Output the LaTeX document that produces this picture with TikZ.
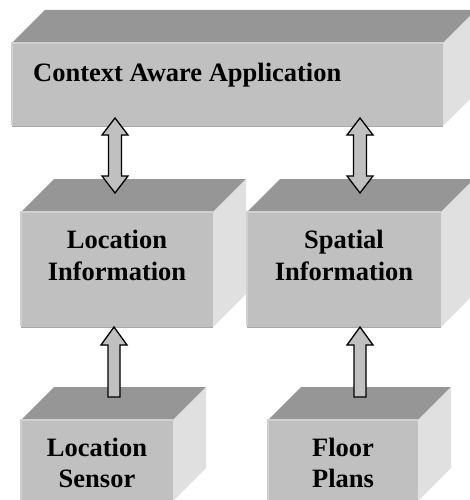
\documentclass[tikz,border=0pt]{standalone}
\usepackage{fontspec}
\setmainfont{Liberation Serif}
\usetikzlibrary{calc}

\definecolor{frontgray}{HTML}{C0C0C0}
\definecolor{topgray}{HTML}{969696}
\definecolor{sidegray}{HTML}{E0E0E0}
\definecolor{edgelight}{HTML}{D0D0D0}
\definecolor{edgedark}{HTML}{A8A8A8}
\definecolor{shadowgray}{HTML}{8A8A8A}

\tikzset{
  front/.style={fill=frontgray, draw=none, inner sep=0pt, outer sep=0pt, anchor=north west},
  boxtext/.style={font=\bfseries\fontsize{26.5}{31.5}\selectfont, inner sep=0pt, anchor=base},
  arrowbody/.style={fill=frontgray, draw=black, line width=1.3pt, line join=miter},
  arrowshadow/.style={fill=shadowgray, draw=none, xshift=4pt, yshift=-4pt},
}

% depth of the cuboids (in picture units)
\def\dep{33}

% top and right faces behind a front-face node, plus bevel edges
\newcommand\cuboid[1]{%
  \fill[topgray] (#1.north west) -- ++(\dep,-\dep) -- ($(#1.north east)+(\dep,-\dep)$) -- (#1.north east) -- cycle;
  \fill[sidegray] (#1.north east) -- ++(\dep,-\dep) -- ($(#1.south east)+(\dep,-\dep)$) -- (#1.south east) -- cycle;
  \draw[edgelight, line width=1.2pt] ([yshift=1pt]#1.south west) -- (#1.north west) -- (#1.north east);
  \draw[edgedark, line width=1pt] (#1.south west) -- (#1.south east);
}

% double-headed block arrow between an upper and a lower tip
\newcommand\dblarrow[2]{%
  \foreach \sty in {arrowshadow,arrowbody}{
  \path[\sty] let \p1=(#1), \p2=(#2) in
    (\x1,\y1) -- (\x1+13pt,\y1-17pt) -- (\x1+6.5pt,\y1-17pt) -- (\x1+6.5pt,\y2+17pt)
    -- (\x1+13pt,\y2+17pt) -- (\x1,\y2) -- (\x1-13pt,\y2+17pt) -- (\x1-6.5pt,\y2+17pt)
    -- (\x1-6.5pt,\y1-17pt) -- (\x1-13pt,\y1-17pt) -- cycle;
  }%
}

% single block arrow pointing up from a flat foot to a tip
\newcommand\blockup[2]{%
  \foreach \sty in {arrowshadow,arrowbody}{
  \path[\sty] let \p1=(#1), \p2=(#2) in
    (\x1,\y1) -- (\x1+13pt,\y1-18pt) -- (\x1+6pt,\y1-18pt) -- (\x1+6pt,\y2)
    -- (\x1-6pt,\y2) -- (\x1-6pt,\y1-18pt) -- (\x1-13pt,\y1-18pt) -- cycle;
  }%
}

\begin{document}
\begin{tikzpicture}[x=1pt,y=-1pt]
\useasboundingbox (0,0) rectangle (470,500);
\clip (0,0) rectangle (470,500);

% front faces
\node[front, minimum width=431pt, minimum height=83pt]  (app)    at (12,43)  {};
\node[front, minimum width=192pt, minimum height=115pt] (locinf) at (21,212) {};
\node[front, minimum width=194pt, minimum height=115pt] (spainf) at (247,212) {};
\node[front, minimum width=152pt, minimum height=81pt]  (locsen) at (21,420) {};
\node[front, minimum width=150pt, minimum height=81pt]  (floor)  at (268,420) {};

\cuboid{app}
\cuboid{locinf}
\cuboid{spainf}
\cuboid{locsen}
\cuboid{floor}

% labels
\node[boxtext, anchor=base west] (tApp) at (33,82) {Context Aware Application};
\node[boxtext] (tLoc1) at (117,248) {Location};
\node[boxtext] (tLoc2) at (117,280) {Information};
\node[boxtext] (tSpa1) at (344,248) {Spatial};
\node[boxtext] (tSpa2) at (344,280) {Information};
\node[boxtext] (tSen1) at (97,456) {Location};
\node[boxtext] (tSen2) at (97,487) {Sensor};
\node[boxtext] (tFlo1) at (343,456) {Floor};
\node[boxtext] (tFlo2) at (343,487) {Plans};

% arrow ends
\coordinate (a1t) at (115,118);
\coordinate (a1b) at (115,193);
\coordinate (a2t) at (360,118);
\coordinate (a2b) at (360,193);
\coordinate (a3t) at (114,327);
\coordinate (a3b) at (114,397);
\coordinate (a4t) at (360,327);
\coordinate (a4b) at (360,397);

\dblarrow{a1t}{a1b}
\dblarrow{a2t}{a2b}
\blockup{a3t}{a3b}
\blockup{a4t}{a4b}
\end{tikzpicture}
\end{document}
